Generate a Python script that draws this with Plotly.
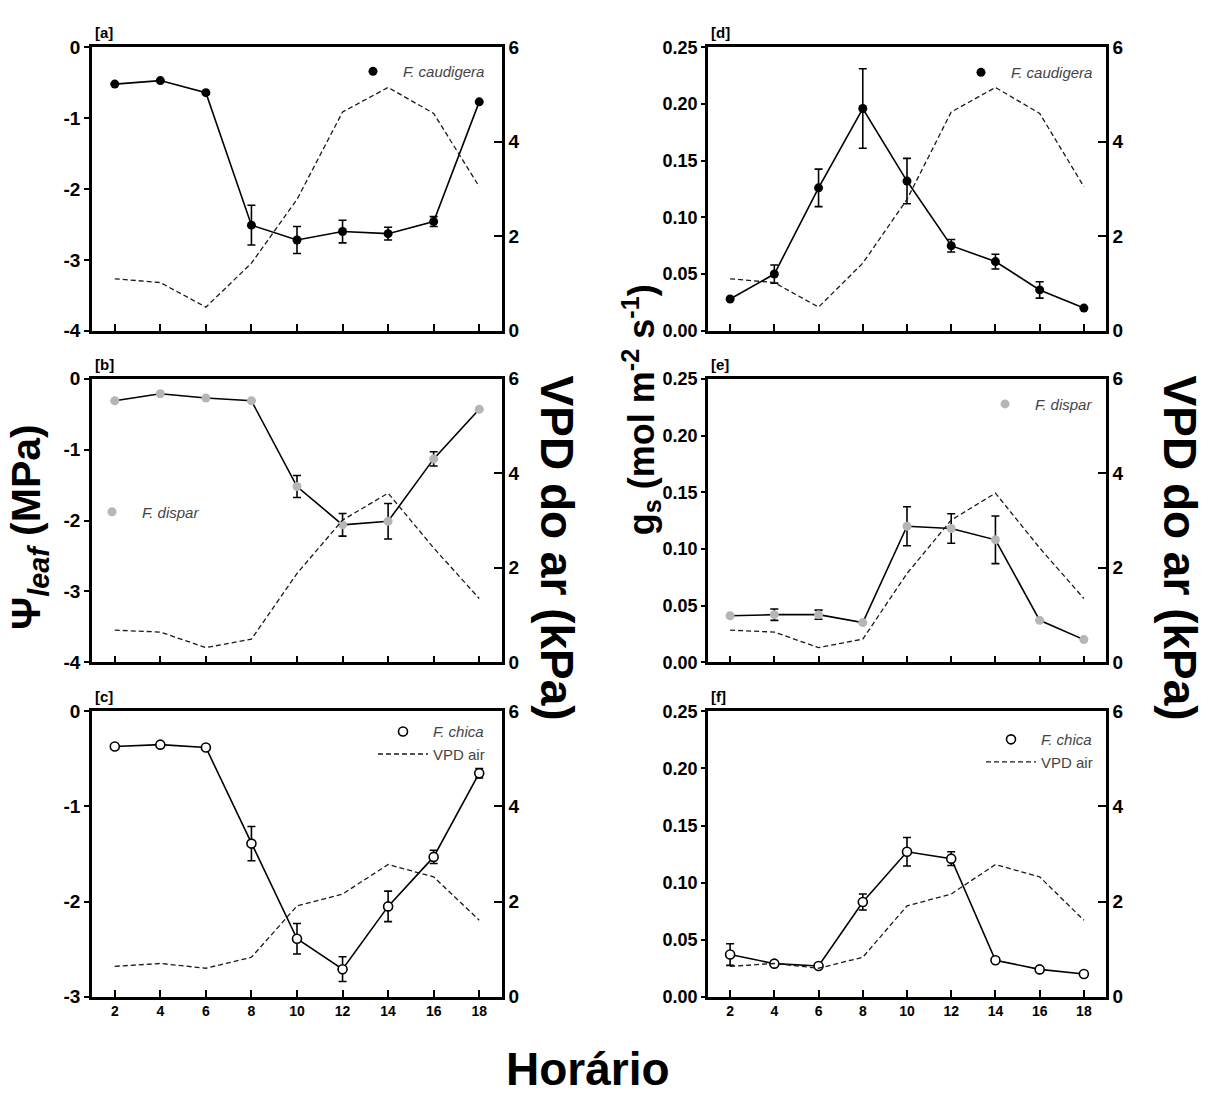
import plotly.graph_objects as go

# ---------------- data ----------------
hours = [2, 4, 6, 8, 10, 12, 14, 16, 18]
x_tick_labels = ["2", "4", "6", "8", "10", "12", "14", "16", "18"]

psi_caudigera = [-0.52, -0.47, -0.64, -2.51, -2.72, -2.60, -2.63, -2.46, -0.77]
psi_caudigera_err = [None, None, None, 0.28, 0.19, 0.16, 0.09, 0.07, None]
psi_dispar = [-0.31, -0.21, -0.27, -0.31, -1.52, -2.06, -2.01, -1.13, -0.43]
psi_dispar_err = [None, None, None, None, 0.155, 0.16, 0.25, 0.10, None]
psi_chica = [-0.37, -0.35, -0.38, -1.39, -2.39, -2.71, -2.05, -1.53, -0.65]
psi_chica_err = [None, None, None, 0.18, 0.16, 0.13, 0.16, 0.07, 0.05]

gs_caudigera = [0.028, 0.050, 0.126, 0.196, 0.132, 0.075, 0.061, 0.036, 0.020]
gs_caudigera_err = [None, 0.008, 0.0165, 0.035, 0.020, 0.0055, 0.0065, 0.0072, None]
gs_dispar = [0.041, 0.042, 0.042, 0.035, 0.120, 0.118, 0.108, 0.037, 0.020]
gs_dispar_err = [None, 0.005, 0.004, None, 0.0172, 0.013, 0.021, None, None]
gs_chica = [0.037, 0.029, 0.027, 0.083, 0.127, 0.121, 0.032, 0.024, 0.020]
gs_chica_err = [0.0095, None, None, 0.007, 0.0125, 0.006, None, None, None]

vpd_caudigera = [1.10, 1.02, 0.50, 1.43, 2.78, 4.63, 5.15, 4.60, 3.05]
vpd_dispar = [0.68, 0.64, 0.31, 0.49, 1.88, 3.01, 3.58, 2.42, 1.35]
vpd_chica = [0.64, 0.70, 0.60, 0.83, 1.91, 2.16, 2.78, 2.52, 1.61]

psi_ticks_4 = [0, -1, -2, -3, -4]
psi_ticktext_4 = ["0", "-1", "-2", "-3", "-4"]
psi_ticks_3 = [0, -1, -2, -3]
psi_ticktext_3 = ["0", "-1", "-2", "-3"]
gs_ticks = [0, 0.05, 0.10, 0.15, 0.20, 0.25]
vpd_ticks = [0, 2, 4, 6]

species = ["F. caudigera", "F. dispar", "F. chica"]
panel_labels = ["[a]", "[b]", "[c]", "[d]", "[e]", "[f]"]

# ---------------- style ----------------
FONT = "Liberation Sans, Arial, sans-serif"
W, H = 1208, 1099
col_px = [(92, 502), (708, 1106)]
row_px = [(38, 327), (376, 665), (715, 1006)]

def xd(a, b):
    return [a / W, b / W]

def yd(top, bot):
    return [1 - bot / H, 1 - top / H]

marker_styles = [
    dict(symbol="circle", size=9, color="black", line=dict(width=0)),
    dict(symbol="circle", size=9, color="#b6b6b6", line=dict(width=0)),
    dict(symbol="circle", size=9, color="white", line=dict(width=1.6, color="black")),
]

# legend anchor positions (px: left, top)
legend_pos = {
    0: (343, 46), 1: (82, 495), 2: (373, 719),
    3: (951, 47), 4: (975, 385), 5: (981, 727),
}

fig = go.Figure()

left_series = [
    (psi_caudigera, psi_caudigera_err, vpd_caudigera),
    (psi_dispar, psi_dispar_err, vpd_dispar),
    (psi_chica, psi_chica_err, vpd_chica),
]
right_series = [
    (gs_caudigera, gs_caudigera_err, vpd_caudigera),
    (gs_dispar, gs_dispar_err, vpd_dispar),
    (gs_chica, gs_chica_err, vpd_chica),
]

layout = dict(
    width=W, height=H, margin=dict(l=0, r=0, t=0, b=0),
    paper_bgcolor="white", plot_bgcolor="white",
    font=dict(family=FONT, color="black"),
    annotations=[],
)

VPD_LINE = dict(color="#1a1a1a", width=1.3, dash="5px,3px")

for p in range(6):
    col = p // 3
    row = p % 3
    n = p + 1
    xa = "x" if n == 1 else f"x{n}"
    ya = "y" if n == 1 else f"y{n}"
    ya2 = f"y{n + 6}"
    leg = "legend" if p == 0 else f"legend{n}"
    vals, errs, vpd = (left_series if col == 0 else right_series)[row]
    ms = marker_styles[row]

    fig.add_trace(go.Scatter(
        x=hours, y=vpd, xaxis=xa, yaxis=ya2, mode="lines",
        line=VPD_LINE, name="VPD air", showlegend=False, legend=leg,
    ))
    fig.add_trace(go.Scatter(
        x=hours, y=vals, xaxis=xa, yaxis=ya, mode="lines+markers",
        line=dict(color="black", width=1.6),
        marker=ms,
        error_y=dict(type="data", array=errs, visible=True, color="black",
                     thickness=1.6, width=4),
        name=f"<i>{species[row]}</i>", showlegend=False, legend=leg,
    ))
    # legend entry (marker only)
    fig.add_trace(go.Scatter(
        x=[None], y=[None], xaxis=xa, yaxis=ya, mode="markers",
        marker=ms, name=f"<i>{species[row]}</i>", showlegend=True, legend=leg,
    ))
    if row == 2:
        fig.add_trace(go.Scatter(
            x=[None], y=[None], xaxis=xa, yaxis=ya2, mode="lines",
            line=VPD_LINE, name="VPD air", showlegend=True, legend=leg,
        ))

    xkey = "xaxis" if n == 1 else f"xaxis{n}"
    ykey = "yaxis" if n == 1 else f"yaxis{n}"
    y2key = f"yaxis{n + 6}"
    cx0, cx1 = col_px[col]
    ry0, ry1 = row_px[row]

    layout[xkey] = dict(
        domain=xd(cx0, cx1), anchor=ya, range=[1, 19],
        tickvals=hours, ticktext=x_tick_labels,
        showticklabels=(row == 2),
        ticks="inside", ticklen=7, tickwidth=2, tickcolor="black",
        tickfont=dict(family=FONT, size=14, color="black", weight="bold"),
        showline=True, linewidth=2.5, linecolor="black", mirror=True,
        showgrid=False, zeroline=False, fixedrange=True,
    )
    if col == 0:
        tv = psi_ticks_3 if row == 2 else psi_ticks_4
        tt = psi_ticktext_3 if row == 2 else psi_ticktext_4
        layout[ykey] = dict(
            domain=yd(ry0, ry1), anchor=xa, range=[min(tv), 0],
            tickvals=tv, ticktext=tt,
            ticks="outside", ticklen=5, tickwidth=2, tickcolor="black",
            tickfont=dict(family=FONT, size=19, color="black", weight="bold"),
            showline=True, linewidth=2.5, linecolor="black",
            showgrid=False, zeroline=False,
        )
    else:
        layout[ykey] = dict(
            domain=yd(ry0, ry1), anchor=xa, range=[0, 0.25],
            tickvals=gs_ticks, tickformat=".2f",
            ticks="outside", ticklen=4, tickwidth=2, tickcolor="black",
            tickfont=dict(family=FONT, size=18, color="black", weight="bold"),
            showline=True, linewidth=2.5, linecolor="black",
            showgrid=False, zeroline=False,
        )
    layout[y2key] = dict(
        overlaying=ya, anchor=xa, side="right", range=[0, 6],
        tickvals=vpd_ticks,
        ticks="inside", ticklen=8, tickwidth=2, tickcolor="black",
        tickfont=dict(family=FONT, size=19, color="black", weight="bold"),
        showline=True, linewidth=2.5, linecolor="black",
        showgrid=False, zeroline=False,
    )

    lx, ly = legend_pos[p]
    layout[leg] = dict(
        x=lx / W, y=1 - ly / H, xanchor="left", yanchor="top",
        xref="paper", yref="paper",
        bgcolor="rgba(0,0,0,0)", borderwidth=0, itemwidth=50,
        font=dict(family=FONT, size=15, color="#444444"),
        tracegroupgap=0,
    )

    layout["annotations"].append(dict(
        text=panel_labels[p], xref="paper", yref="paper",
        x=(cx0 + 1) / W, y=1 - (ry0 - 4) / H, xanchor="left", yanchor="bottom",
        showarrow=False, font=dict(family=FONT, size=15, color="black", weight="bold"),
    ))

# big axis titles
TITLE = dict(xref="paper", yref="paper", showarrow=False,
             xanchor="center", yanchor="middle")
layout["annotations"] += [
    dict(text="Ψ<sub><i>leaf</i></sub> (MPa)", x=29 / W, y=1 - 527 / H,
         textangle=-90, font=dict(family=FONT, size=41, color="black", weight="bold"), **TITLE),
    dict(text="VPD do ar (kPa)", x=557 / W, y=1 - 548 / H, textangle=90,
         font=dict(family=FONT, size=46, color="black", weight="bold"), **TITLE),
    dict(text="g<sub>s</sub> (mol m<sup>-2</sup> s<sup>-1</sup>)", x=641 / W, y=1 - 408 / H,
         textangle=-90, font=dict(family=FONT, size=36, color="black", weight="bold"), **TITLE),
    dict(text="VPD do ar (kPa)", x=1180 / W, y=1 - 548 / H, textangle=90,
         font=dict(family=FONT, size=46, color="black", weight="bold"), **TITLE),
    dict(text="Horário", x=588 / W, y=1 - 1080 / H,
         font=dict(family=FONT, size=46, color="black", weight="bold"), **TITLE),
]

fig.update_layout(**layout)
fig.write_html("out.html")
